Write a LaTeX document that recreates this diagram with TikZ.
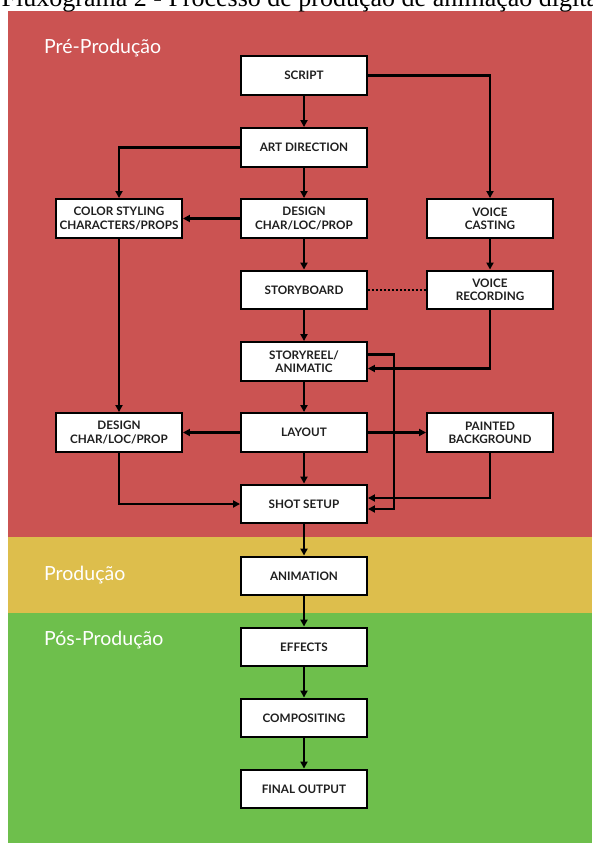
\documentclass[tikz,border=0pt]{standalone}
\usepackage{fontspec}
\setmainfont{Lato}
\newfontfamily\titlefont{Liberation Serif}
\usetikzlibrary{arrows.meta}
\definecolor{prered}{RGB}{203,83,82}
\definecolor{proyel}{RGB}{221,190,76}
\definecolor{posgrn}{RGB}{110,191,76}
\tikzset{
  stepbox/.style={draw=black, fill=white, line width=2.4pt, minimum width=125.5pt, minimum height=38.5pt,
    inner sep=2pt, align=center, font=\fontsize{11.7}{13.2}\selectfont\bfseries, text=black!88},
  conn/.style={line width=2.2pt, draw=black},
  arr/.style={conn, -{Triangle[length=7pt,width=7pt]}},
  phase/.style={anchor=west, text=white, font=\fontsize{19.5}{22}\selectfont, inner sep=0pt},
}
\begin{document}
\begin{tikzpicture}[x=1pt,y=-1pt]
\useasboundingbox (0,0) rectangle (592,843);
\clip (0,0) rectangle (592,843);
\fill[white] (0,0) rectangle (592,843);
% bands
\fill[prered] (7.5,11) rectangle (592,536.5);
\fill[proyel] (7.5,536.5) rectangle (592,612.5);
\fill[posgrn] (7.5,612.5) rectangle (592,843);
% title
\node[anchor=base west, inner sep=0pt, font=\titlefont\fontsize{26}{28}\selectfont] (title) at (1.5,7) {Fluxograma 2 - Processo de produção de animação digital};
% phase labels
\node[phase] (pre) at (44,48.5) {Pré-Produção};
\node[phase] (prod) at (44,575) {Produção};
\node[phase] (pos) at (44,640) {Pós-Produção};
% boxes
\node[stepbox] (script) at (304,75.5) {SCRIPT};
\node[stepbox] (art) at (304,147.5) {ART DIRECTION};
\node[stepbox] (color) at (119,218.5) {COLOR STYLING\\CHARACTERS/PROPS};
\node[stepbox] (design) at (304,218.5) {DESIGN\\CHAR/LOC/PROP};
\node[stepbox] (vcast) at (490,218.5) {VOICE\\CASTING};
\node[stepbox] (story) at (304,290) {STORYBOARD};
\node[stepbox] (vrec) at (490,290) {VOICE\\RECORDING};
\node[stepbox] (reel) at (304,361.5) {STORYREEL/\\ANIMATIC};
\node[stepbox] (designl) at (119,432.5) {DESIGN\\CHAR/LOC/PROP};
\node[stepbox] (layout) at (304,432.5) {LAYOUT};
\node[stepbox] (painted) at (490,432.5) {PAINTED\\BACKGROUND};
\node[stepbox] (shot) at (304,504) {SHOT SETUP};
\node[stepbox] (anim) at (304,576) {ANIMATION};
\node[stepbox] (effects) at (304,647) {EFFECTS};
\node[stepbox] (comp) at (304,718) {COMPOSITING};
\node[stepbox] (final) at (304,789) {FINAL OUTPUT};
% connectors
\draw[arr] (script.east) -| (vcast.north);
\draw[arr] (script) -- (art);
\draw[arr] (art.west) -| (color.north);
\draw[arr] (art) -- (design);
\draw[arr] (design.west) -- (color.east);
\draw[arr] (design) -- (story);
\draw[arr] (vcast) -- (vrec);
\draw[conn, line width=2pt, dotted] (story.east) -- (vrec.west);
\draw[arr] (story) -- (reel);
\draw[arr] (vrec.south) |- ([yshift=-7pt]reel.east);
\draw[arr] ([yshift=7pt]reel.east) -- ++(26,0) |- ([yshift=-5pt]shot.east);
\draw[arr] (reel) -- (layout);
\draw[arr] (color) -- (designl);
\draw[arr] (layout.west) -- (designl.east);
\draw[arr] (layout.east) -- (painted.west);
\draw[arr] (layout) -- (shot);
\draw[arr] (designl.south) |- (shot.west);
\draw[arr] (painted.south) |- ([yshift=6pt]shot.east);
\draw[arr] (shot) -- (anim);
\draw[arr] (anim) -- (effects);
\draw[arr] (effects) -- (comp);
\draw[arr] (comp) -- (final);
\end{tikzpicture}
\end{document}
